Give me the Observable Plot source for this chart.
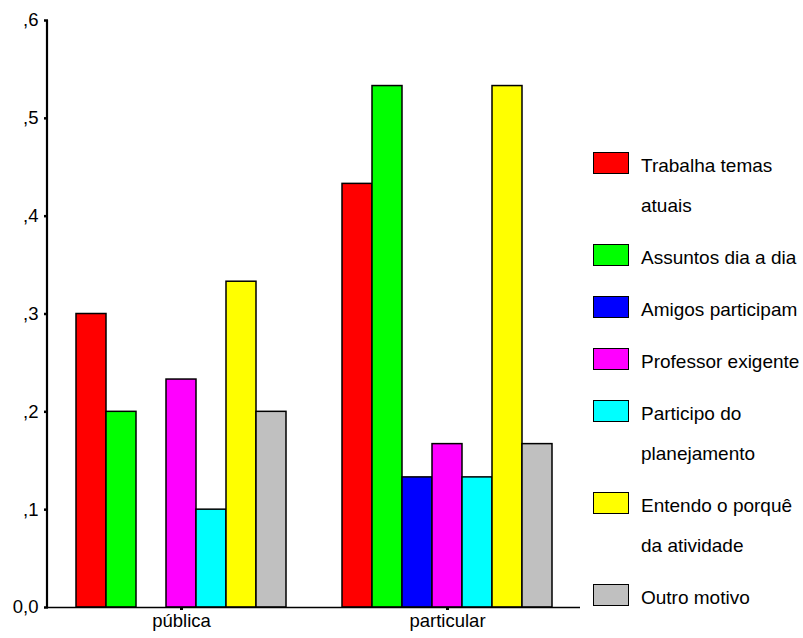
<!DOCTYPE html>
<html>
<head>
<meta charset="utf-8">
<script src="https://cdn.jsdelivr.net/npm/d3@7"></script>
<script src="https://cdn.jsdelivr.net/npm/@observablehq/plot@0.6"></script>
<style>
  html, body { margin: 0; padding: 0; background: #fff; }
  #wrap { position: relative; width: 803px; height: 638px; font-family: "Liberation Sans", Arial, sans-serif; color: #000; }
  #legend { position: absolute; left: 593px; top: 146px; }
  .item { display: flex; align-items: flex-start; margin-bottom: 12px; }
  .sw { width: 34px; height: 20px; border: 1.5px solid #000; margin-top: 6px; flex: none; }
  .lab { margin-left: 12px; width: 162px; font-size: 19px; line-height: 40px; }
</style>
</head>
<body>
<div id="wrap"></div>
<script>
const groups = ["pública", "particular"];
const series = [
  "Trabalha temas atuais",
  "Assuntos dia a dia",
  "Amigos participam",
  "Professor exigente",
  "Participo do planejamento",
  "Entendo o porquê da atividade",
  "Outro motivo"
];
const publicaValues = [0.300, 0.200, 0.000, 0.233, 0.100, 0.333, 0.200];
const particularValues = [0.433, 0.533, 0.133, 0.167, 0.133, 0.533, 0.167];
const colors = ["#ff0000", "#00ff00", "#0000ff", "#ff00ff", "#00ffff", "#ffff00", "#c0c0c0"];
const yTicks = [0, 0.1, 0.2, 0.3, 0.4, 0.5, 0.6];
const yTickLabels = ["0,0", ",1", ",2", ",3", ",4", ",5", ",6"];

const data = [];
series.forEach((s, i) => {
  data.push({group: groups[0], series: s, value: publicaValues[i]});
  data.push({group: groups[1], series: s, value: particularValues[i]});
});

const font = "'Liberation Sans', Arial, sans-serif";

const plot = Plot.plot({
  width: 803,
  height: 638,
  marginLeft: 47,
  marginRight: 223,
  marginTop: 20,
  marginBottom: 31,
  style: {fontFamily: font, fontSize: "18.5px", color: "#000", background: "transparent"},
  fx: {domain: groups, padding: 0, label: null, axis: null},
  x: {domain: series, paddingInner: 0, paddingOuter: 0.88, axis: null},
  y: {domain: [0, 0.6], label: null, axis: null},
  color: {domain: series, range: colors},
  marks: [
    Plot.barY(data, {fx: "group", x: "series", y: "value", fill: "series", stroke: "#000", strokeWidth: 1.5}),
    Plot.ruleY([0], {stroke: "#000", strokeWidth: 1.5}),
    Plot.axisY({
      ticks: yTicks,
      tickFormat: d => yTickLabels[Math.round(d * 10)],
      tickSize: 4,
      tickPadding: 6,
      strokeWidth: 2.5,
      label: null,
      fontSize: 18.5
    }),
    Plot.axisFx({
      anchor: "bottom",
      tickSize: 3,
      tickPadding: 3,
      strokeWidth: 3,
      label: null,
      fontSize: 18.5
    })
  ]
});

const wrap = document.getElementById("wrap");
wrap.appendChild(plot);

// vertical y-axis line, positioned from the library's scales
const fxRange = plot.scale("fx").range;
const yRange = plot.scale("y").range;
d3.select(plot).append("line")
  .attr("x1", fxRange[0]).attr("x2", fxRange[0])
  .attr("y1", yRange[0] + 1).attr("y2", yRange[1])
  .attr("stroke", "#000").attr("stroke-width", 2.2);

// legend
const legend = d3.select(wrap).append("div").attr("id", "legend");
const items = legend.selectAll(".item").data(series).join("div").attr("class", "item");
items.append("div").attr("class", "sw").style("background", (d, i) => colors[i]);
items.append("div").attr("class", "lab").text(d => d);
</script>
</body>
</html>
